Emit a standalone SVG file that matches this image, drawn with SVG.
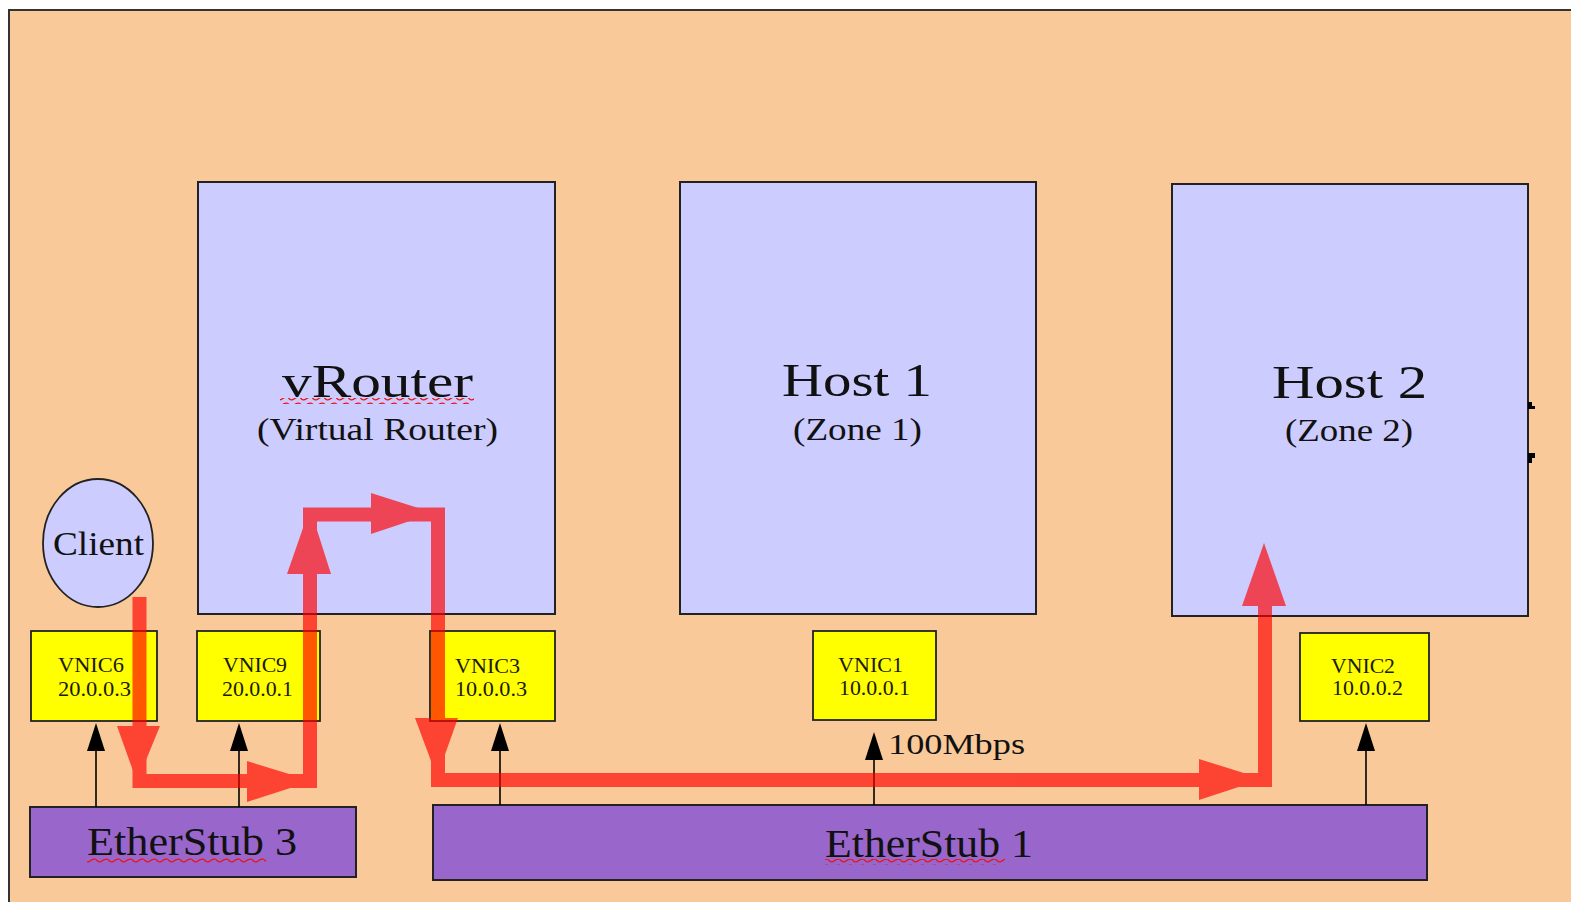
<svg xmlns="http://www.w3.org/2000/svg" width="1571" height="902" viewBox="0 0 1571 902">
<style>
.box{fill:#CCCCFF;stroke:#222;stroke-width:2}
.vnic{fill:#FFFF00;stroke:#222;stroke-width:1.8}
.stub{fill:#9966CC;stroke:#222;stroke-width:2}
.t{font-family:"Liberation Serif","Times New Roman",serif;fill:#111}
.big{font-size:47px}
.sub{font-size:32px}
.nic{font-size:21px;fill:#1a1a0a}
.stubt{font-size:40px}
.lnk{stroke:#000;stroke-width:1.6;fill:none}
.ah{fill:#000}
</style>
<defs>
<pattern id="wave" patternUnits="userSpaceOnUse" x="0" y="0" width="12" height="6">
<path d="M0,1.5 Q3,5.5 6,3 Q9,0.5 12,1.5" fill="none" stroke="#EE1111" stroke-width="1.3"/>
</pattern>
</defs>
<rect x="0" y="0" width="1571" height="902" fill="#FFFFFF"/>
<rect id="frame" x="9" y="10" width="1580" height="920" fill="#FAC999" stroke="#333" stroke-width="2"/>

<g id="vrouter">
<rect class="box" x="198" y="182" width="357" height="432"/>
<text class="t big" x="282" y="397" textLength="191" lengthAdjust="spacingAndGlyphs">vRouter</text>
<rect x="280" y="398" width="194" height="6" fill="url(#wave)"/>
<text class="t sub" x="257" y="440" textLength="241" lengthAdjust="spacingAndGlyphs">(Virtual Router)</text>
</g>

<g id="host1">
<rect class="box" x="680" y="182" width="356" height="432"/>
<text class="t big" x="782" y="396" textLength="150" lengthAdjust="spacingAndGlyphs">Host 1</text>
<text class="t sub" x="793" y="440" textLength="129" lengthAdjust="spacingAndGlyphs">(Zone 1)</text>
</g>

<g id="host2">
<rect class="box" x="1172" y="184" width="356" height="432"/>
<text class="t big" x="1272" y="398" textLength="155" lengthAdjust="spacingAndGlyphs">Host 2</text>
<text class="t sub" x="1285" y="441" textLength="128" lengthAdjust="spacingAndGlyphs">(Zone 2)</text>
<polygon points="1528,402 1532,402 1532,406 1535,406 1535,409 1528,409" fill="#000"/>
<polygon points="1528,453 1535,453 1535,458 1532,458 1532,463 1528,463" fill="#000"/>
</g>

<g id="client">
<ellipse cx="98" cy="543" rx="55" ry="64" fill="#CCCCFF" stroke="#222" stroke-width="1.8"/>
<text class="t" style="font-size:33px" x="53" y="555" textLength="91" lengthAdjust="spacingAndGlyphs">Client</text>
</g>

<g id="vnic6">
<rect class="vnic" x="31" y="631" width="126" height="90"/>
<text class="t nic" x="58" y="672" textLength="66" lengthAdjust="spacingAndGlyphs">VNIC6</text>
<text class="t nic" x="58" y="696" textLength="73" lengthAdjust="spacingAndGlyphs">20.0.0.3</text>
</g>

<g id="vnic9">
<rect class="vnic" x="197" y="631" width="123" height="90"/>
<text class="t nic" x="223" y="672" textLength="64" lengthAdjust="spacingAndGlyphs">VNIC9</text>
<text class="t nic" x="222" y="696" textLength="71" lengthAdjust="spacingAndGlyphs">20.0.0.1</text>
</g>

<g id="vnic3">
<rect class="vnic" x="430" y="631" width="125" height="90"/>
<text class="t nic" x="455" y="673" textLength="65" lengthAdjust="spacingAndGlyphs">VNIC3</text>
<text class="t nic" x="455" y="696" textLength="72" lengthAdjust="spacingAndGlyphs">10.0.0.3</text>
</g>

<g id="vnic1">
<rect class="vnic" x="813" y="631" width="123" height="89"/>
<text class="t nic" x="838" y="672" textLength="65" lengthAdjust="spacingAndGlyphs">VNIC1</text>
<text class="t nic" x="839" y="695" textLength="71" lengthAdjust="spacingAndGlyphs">10.0.0.1</text>
</g>

<g id="vnic2">
<rect class="vnic" x="1300" y="633" width="129" height="88"/>
<text class="t nic" x="1331" y="673" textLength="64" lengthAdjust="spacingAndGlyphs">VNIC2</text>
<text class="t nic" x="1332" y="695" textLength="71" lengthAdjust="spacingAndGlyphs">10.0.0.2</text>
</g>

<g id="etherstub3">
<rect class="stub" x="30" y="807" width="326" height="70"/>
<text class="t stubt" x="87" y="855" textLength="210" lengthAdjust="spacingAndGlyphs">EtherStub 3</text>
<rect x="87" y="857" width="179" height="6" fill="url(#wave)"/>
</g>

<g id="etherstub1">
<rect class="stub" x="433" y="805" width="994" height="75"/>
<text class="t stubt" x="825" y="857" textLength="208" lengthAdjust="spacingAndGlyphs">EtherStub 1</text>
<rect x="825" y="859" width="180" height="6" fill="url(#wave)"/>
</g>

<g id="connectors">
<line class="lnk" x1="96" y1="807" x2="96" y2="745"/>
<polygon class="ah" points="96,723 87,751 105,751"/>
<line class="lnk" x1="239" y1="807" x2="239" y2="745"/>
<polygon class="ah" points="239,723 230,751 248,751"/>
<line class="lnk" x1="500" y1="805" x2="500" y2="745"/>
<polygon class="ah" points="500,723 491,751 509,751"/>
<line class="lnk" x1="874" y1="805" x2="874" y2="755"/>
<polygon class="ah" points="874,732 865,760 883,760"/>
<text class="t" style="font-size:30px" x="888" y="754" textLength="137" lengthAdjust="spacingAndGlyphs">100Mbps</text>
<line class="lnk" x1="1366" y1="805" x2="1366" y2="745"/>
<polygon class="ah" points="1366,723 1357,751 1375,751"/>

<g id="flow" opacity="0.66" fill="#FF0000">
<polyline points="139.5,597 139.5,781 310,781 310,514.5 438,514.5 438,780 1265,780 1265,600" fill="none" stroke="#FF0000" stroke-width="14" stroke-linejoin="miter" stroke-miterlimit="10"/>
<polygon points="117,726 160,726 137,782"/>
<polygon points="247,761 247,802 312,781"/>
<polygon points="287,574 331,574 310,508"/>
<polygon points="371,493 371,534 434,513"/>
<polygon points="415,718 458,718 437,777"/>
<polygon points="1199,759 1199,800 1263,779"/>
<polygon points="1242,606 1286,606 1264,543"/>
</g>
</g>
</svg>
